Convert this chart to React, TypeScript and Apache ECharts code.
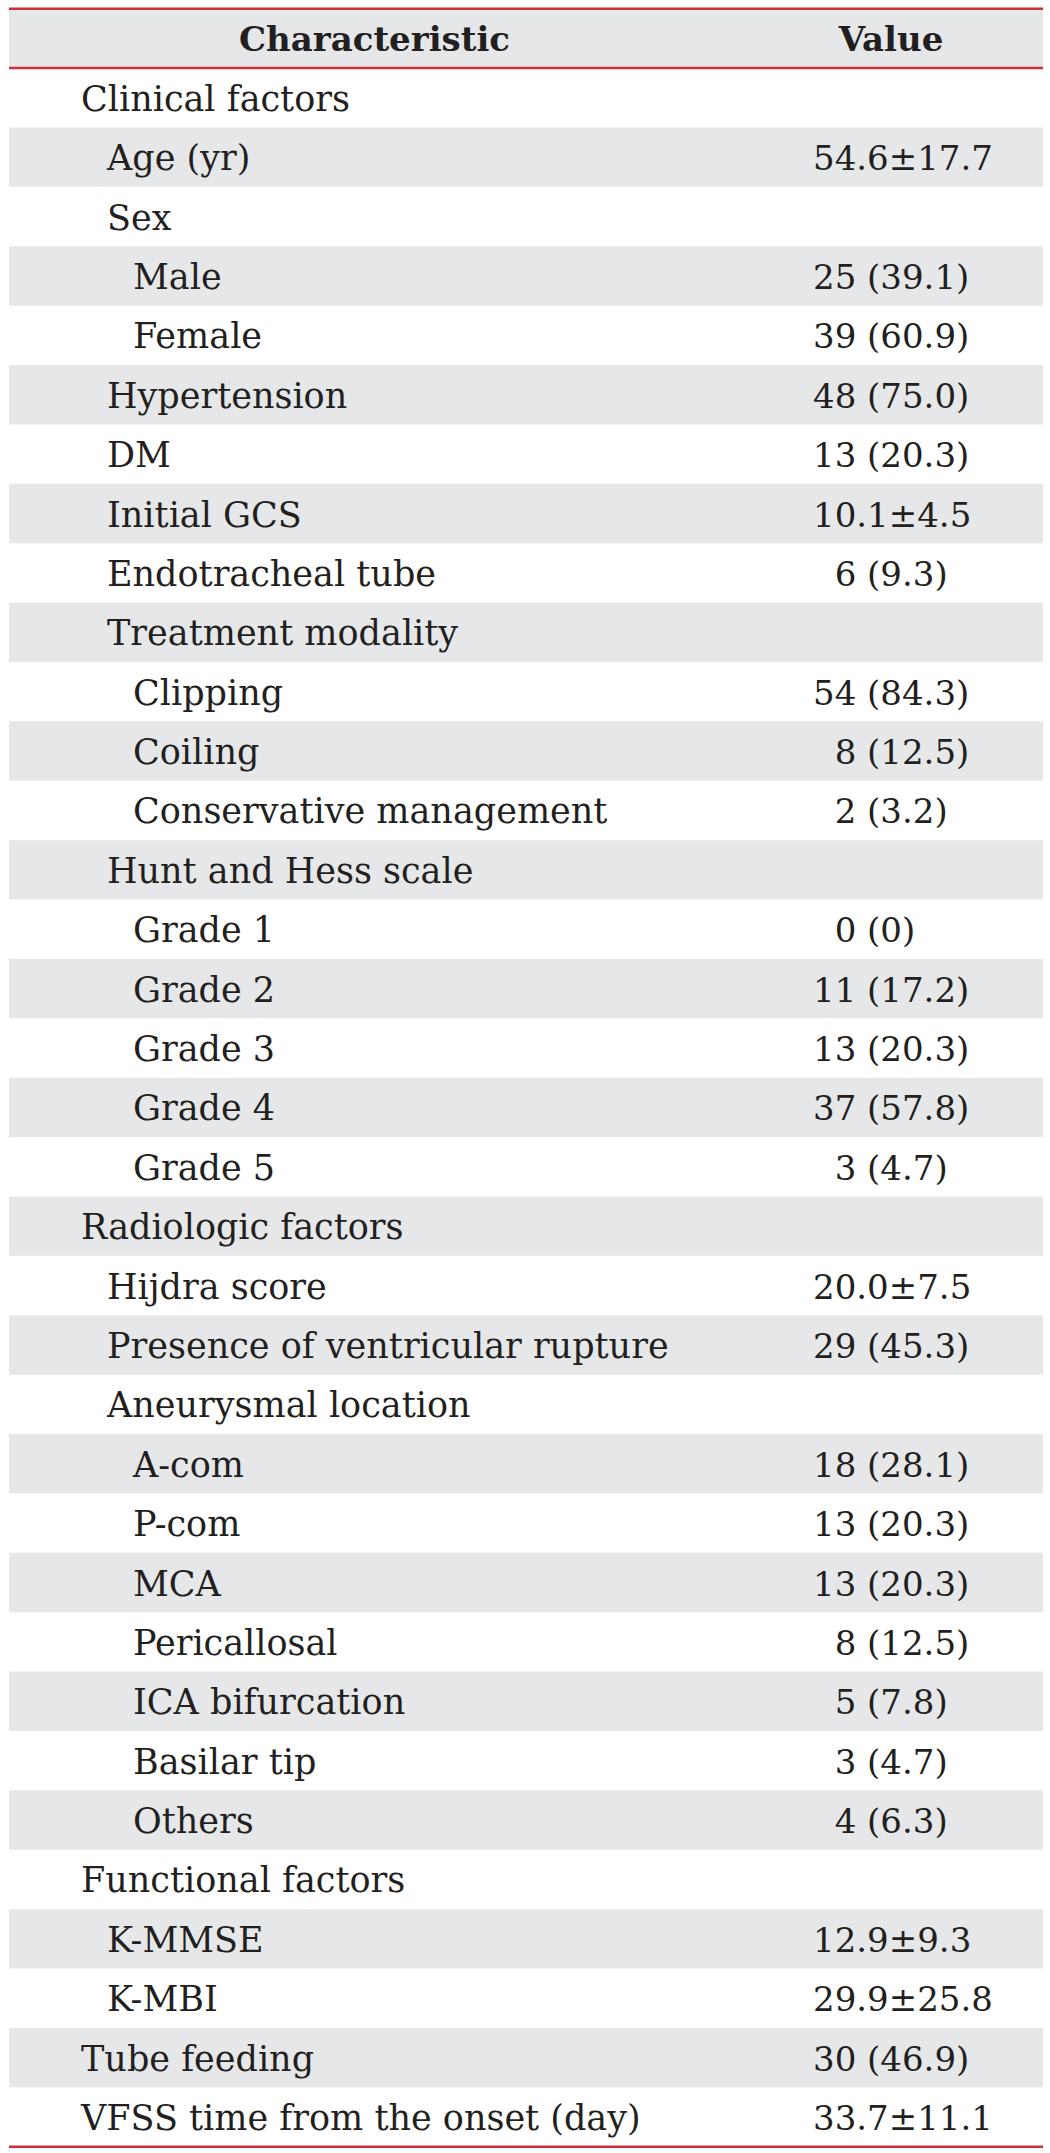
import React, { useEffect, useRef } from "react";
import * as echarts from "echarts";

const headers = ["Characteristic", "Value"];

const labels = [
  "Clinical factors",
  "Age (yr)",
  "Sex",
  "Male",
  "Female",
  "Hypertension",
  "DM",
  "Initial GCS",
  "Endotracheal tube",
  "Treatment modality",
  "Clipping",
  "Coiling",
  "Conservative management",
  "Hunt and Hess scale",
  "Grade 1",
  "Grade 2",
  "Grade 3",
  "Grade 4",
  "Grade 5",
  "Radiologic factors",
  "Hijdra score",
  "Presence of ventricular rupture",
  "Aneurysmal location",
  "A-com",
  "P-com",
  "MCA",
  "Pericallosal",
  "ICA bifurcation",
  "Basilar tip",
  "Others",
  "Functional factors",
  "K-MMSE",
  "K-MBI",
  "Tube feeding",
  "VFSS time from the onset (day)",
];

const levels = [
  0, 1, 1, 2, 2, 1, 1, 1, 1, 1, 2, 2, 2, 1, 2, 2, 2, 2, 2, 0, 1, 1, 1, 2, 2, 2, 2,
  2, 2, 2, 0, 1, 1, 0, 0,
];

const values = [
  "",
  "54.6±17.7",
  "",
  "25 (39.1)",
  "39 (60.9)",
  "48 (75.0)",
  "13 (20.3)",
  "10.1±4.5",
  "6 (9.3)",
  "",
  "54 (84.3)",
  "8 (12.5)",
  "2 (3.2)",
  "",
  "0 (0)",
  "11 (17.2)",
  "13 (20.3)",
  "37 (57.8)",
  "3 (4.7)",
  "",
  "20.0±7.5",
  "29 (45.3)",
  "",
  "18 (28.1)",
  "13 (20.3)",
  "13 (20.3)",
  "8 (12.5)",
  "5 (7.8)",
  "3 (4.7)",
  "4 (6.3)",
  "",
  "12.9±9.3",
  "29.9±25.8",
  "30 (46.9)",
  "33.7±11.1",
];

const FONT = "DejaVu Serif";
const FS_LABEL = 35;
const FS_VALUE = 34;
const FS_HEAD = 34;
const TEXT = "#231f20";
const GRAY = "#e6e7e8";
const RED = "#c8303a";
const INDENT_X = [81, 107, 133];
const VALUE_X = 813;
const HEAD_X = [374.5, 891];

export default function App() {
  const ref = useRef<HTMLDivElement>(null);

  useEffect(() => {
    if (!ref.current) return;
    const chart = echarts.init(ref.current, null, { renderer: "svg" });
    const cv = document.createElement("canvas").getContext("2d");
    let digitW = FS_VALUE * 0.636;
    if (cv) {
      cv.font = `${FS_VALUE}px "${FONT}"`;
      digitW = cv.measureText("0").width;
    }
    const rows = ["__header__", ...labels];

    chart.setOption({
      animation: false,
      grid: { left: 9, right: 7, top: 8.7, bottom: 6.3 },
      xAxis: { type: "value", min: 0, max: 1, show: false },
      yAxis: { type: "category", data: rows, inverse: true, show: false },
      series: [
        {
          type: "custom",
          silent: true,
          data: rows.map((_, i) => [0, i]),
          renderItem: (params: any, api: any) => {
            const i = api.value(1) as number;
            const cs = params.coordSys;
            const yc = api.coord([0, i])[1];
            const h = api.size([0, 1])[1];
            const top = yc - h / 2;
            const children: any[] = [];
            if (i % 2 === 0) {
              children.push({
                type: "rect",
                shape: { x: cs.x, y: top, width: cs.width, height: h },
                style: { fill: GRAY },
              });
            }
            const ty = yc + 1;
            if (i === 0) {
              headers.forEach((t, k) => {
                children.push({
                  type: "text",
                  style: {
                    text: t,
                    x: HEAD_X[k],
                    y: ty,
                    fill: TEXT,
                    fontFamily: FONT,
                    fontSize: FS_HEAD,
                    fontWeight: "bold",
                    align: "center",
                    verticalAlign: "middle",
                  },
                });
              });
              [top, top + h].forEach((ly) =>
                children.push({
                  type: "line",
                  shape: { x1: cs.x, y1: ly, x2: cs.x + cs.width, y2: ly },
                  style: { stroke: RED, lineWidth: 2.5 },
                })
              );
            } else {
              const r = i - 1;
              children.push({
                type: "text",
                style: {
                  text: labels[r],
                  x: INDENT_X[levels[r]],
                  y: ty,
                  fill: TEXT,
                  fontFamily: FONT,
                  fontSize: FS_LABEL,
                  align: "left",
                  verticalAlign: "middle",
                },
              });
              const v = values[r];
              if (v) {
                const pad = /^\d\s/.test(v) ? digitW : 0;
                children.push({
                  type: "text",
                  style: {
                    text: v,
                    x: VALUE_X + pad,
                    y: ty,
                    fill: TEXT,
                    fontFamily: FONT,
                    fontSize: FS_VALUE,
                    align: "left",
                    verticalAlign: "middle",
                  },
                });
              }
              if (r === labels.length - 1) {
                children.push({
                  type: "line",
                  shape: { x1: cs.x, y1: top + h, x2: cs.x + cs.width, y2: top + h },
                  style: { stroke: RED, lineWidth: 2.5 },
                });
              }
            }
            return { type: "group", children };
          },
        },
      ],
    });

    return () => chart.dispose();
  }, []);

  return (
    <div
      ref={ref}
      style={{ position: "absolute", left: 0, top: 0, width: 1050, height: 2153 }}
    />
  );
}
